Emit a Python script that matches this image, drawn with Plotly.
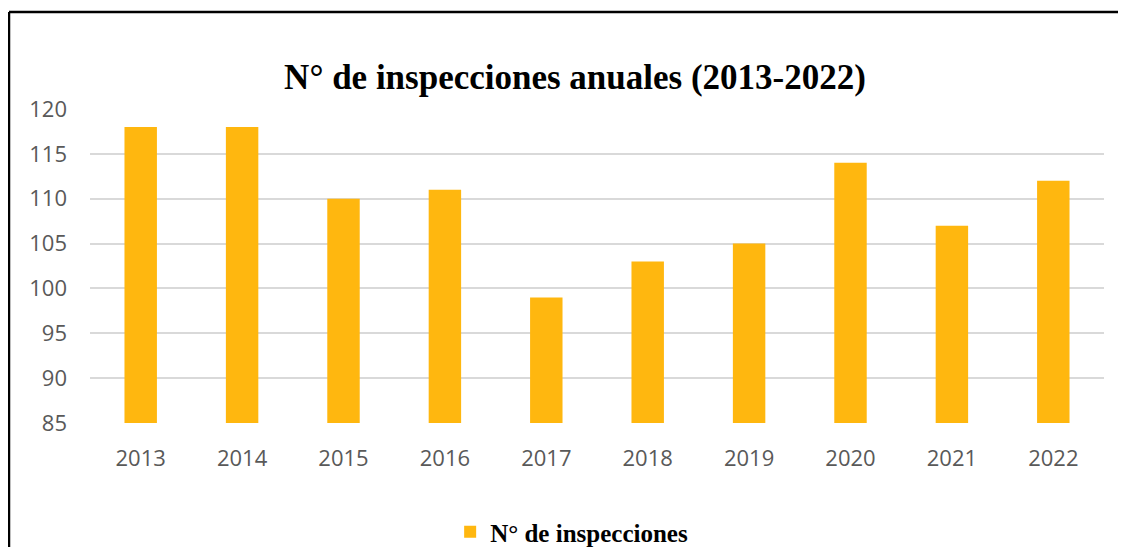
import plotly.graph_objects as go

years = ["2013", "2014", "2015", "2016", "2017", "2018", "2019", "2020", "2021", "2022"]
inspecciones = [118, 118, 110, 111, 99, 103, 105, 114, 107, 112]
y_ticks = [85, 90, 95, 100, 105, 110, 115, 120]

# page has an 8px body margin; figure coordinates = page coordinates - 8
OFF = 8
W, H = 1126 - OFF, 575
L = 90 - OFF
T = 109 - OFF
R = W - (1104 - OFF)
B = H - (423 - OFF)
pw, ph = W - L - R, H - T - B

def px_x(px):
    return (px - OFF - L) / pw

def px_y(py):
    return (H - B - (py - OFF)) / ph

fig = go.Figure()
fig.add_trace(go.Bar(
    x=years, y=inspecciones, name="<b>N° de inspecciones</b>",
    marker=dict(color="#FFB70F", line=dict(width=0)),
))

fig.update_layout(
    width=W, height=H,
    margin=dict(l=L, r=R, t=T, b=B),
    paper_bgcolor="white", plot_bgcolor="white",
    bargap=0.68,
    title=dict(
        text="<b>N° de inspecciones anuales (2013-2022)</b>",
        x=(575 - OFF) / W, xanchor="center", xref="container",
        y=1 - (77 - OFF) / H, yanchor="middle",
        font=dict(family="Liberation Serif", size=35, color="black"),
    ),
    showlegend=True,
    legend=dict(
        orientation="h", x=0.475, xanchor="center",
        y=px_y(532), yanchor="middle",
        font=dict(family="Liberation Serif", size=25, color="black"),
    ),
    xaxis=dict(
        showgrid=False, showline=False, ticks="",
        tickfont=dict(family="Open Sans", size=22, color="#595959"),
        ticklabelstandoff=20,
    ),
    yaxis=dict(
        range=[85, 120], tickvals=y_ticks,
        showgrid=True, gridcolor="#D9D9D9", gridwidth=2,
        zeroline=False, showline=False, ticks="",
        tickfont=dict(family="Open Sans", size=22, color="#595959"),
        ticklabelstandoff=22,
    ),
    shapes=[
        dict(type="line", xref="paper", yref="paper",
             x0=px_x(9), x1=px_x(9), y0=px_y(12), y1=px_y(590),
             line=dict(color="black", width=2.5)),
        dict(type="line", xref="paper", yref="paper",
             x0=px_x(9), x1=px_x(1150), y0=px_y(12), y1=px_y(12),
             line=dict(color="black", width=2.5)),
    ],
)

fig.write_html("out.html")
